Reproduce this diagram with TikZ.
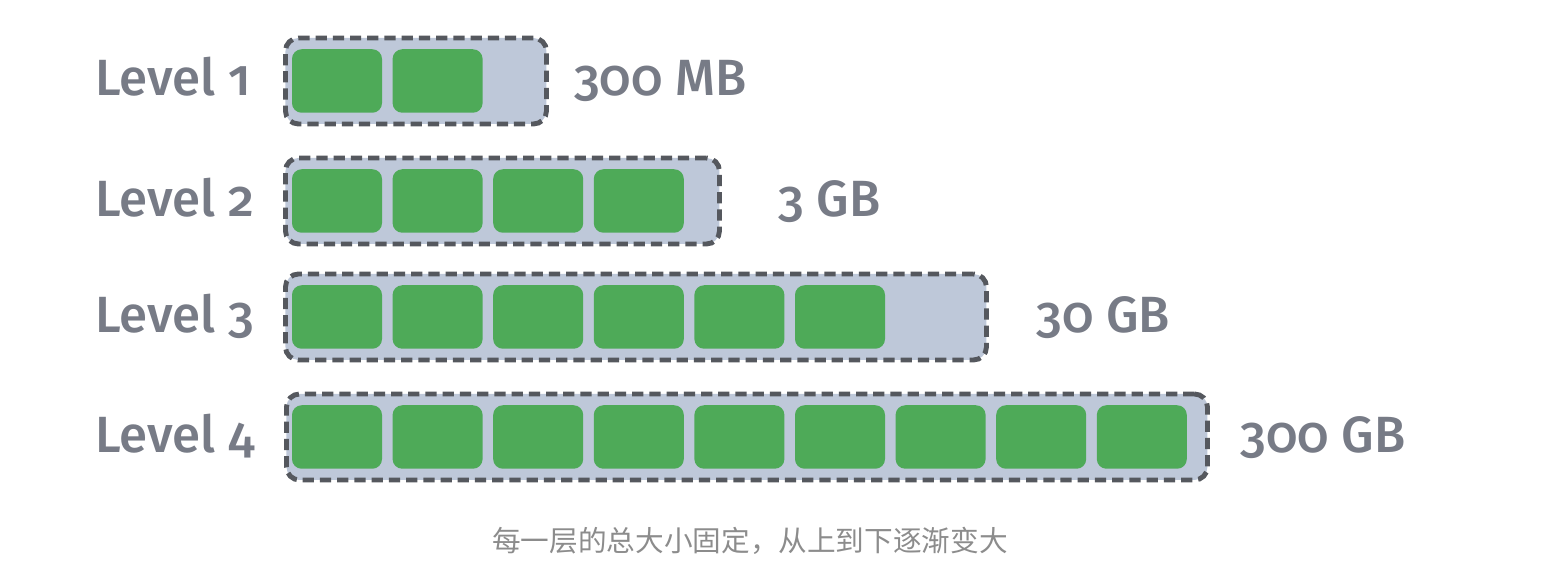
\documentclass[tikz,border=0pt]{standalone}
\usepackage{fontspec}
\setmainfont{Fira Sans Medium}[Numbers=OldStyle]
\newfontfamily\cjk{Noto Sans CJK SC}
\usetikzlibrary{positioning}
\definecolor{ink}{HTML}{777B86}
\definecolor{edge}{HTML}{55585E}
\definecolor{slab}{HTML}{BEC8D9}
\definecolor{leaf}{HTML}{4EAA58}
\definecolor{note}{HTML}{8C8C8C}

\begin{document}
\begin{tikzpicture}[
  lvl/.style={draw=edge,line width=2.8pt,dash pattern=on 6.4pt off 3.4pt,fill=slab,rounded corners=7.4pt,minimum height=1.72cm,anchor=west,inner sep=0pt},
  blk/.style={fill=leaf,rounded corners=5.5pt,minimum width=1.8cm,minimum height=1.27cm,inner sep=0pt},
  lab/.style={text=ink,font=\fontsize{29}{31}\selectfont,anchor=base west,inner sep=0pt}]
\useasboundingbox (0,0) rectangle (30.92,-11.56);
% level boxes
\node[lvl,minimum width=5.22cm]  (c1) at (5.66,-1.62) {};
\node[lvl,minimum width=8.68cm]  (c2) at (5.66,-4.02) {};
\node[lvl,minimum width=14.02cm] (c3) at (5.66,-6.34) {};
\node[lvl,minimum width=18.42cm] (c4) at (5.68,-8.74) {};
% files in each level
\foreach \n/\y/\k in {1/-1.62/2,2/-4.02/4,3/-6.34/6,4/-8.74/9}
  \foreach \i in {1,...,\k}
    \node[blk] (b\n-\i) at ({6.74+2.012*(\i-1)},\y) {};
% names and sizes
\node[lab] (l1) at (1.9,-1.92) {Level 1};
\node[lab] (l2) at (1.9,-4.33) {Level 2};
\node[lab] (l3) at (1.9,-6.65) {Level 3};
\node[lab] (l4) at (1.9,-9.05) {Level 4};
\node[lab] (s1) at (11.48,-1.92) {300 MB};
\node[lab] (s2) at (15.56,-4.33) {3 GB};
\node[lab] (s3) at (20.72,-6.65) {30 GB};
\node[lab] (s4) at (24.8,-9.05) {300 GB};
\node[text=note,font=\cjk\fontsize{16.3}{18}\selectfont] (cap) at (15.0,-10.82) {每一层的总大小固定，从上到下逐渐变大};
\end{tikzpicture}
\end{document}
